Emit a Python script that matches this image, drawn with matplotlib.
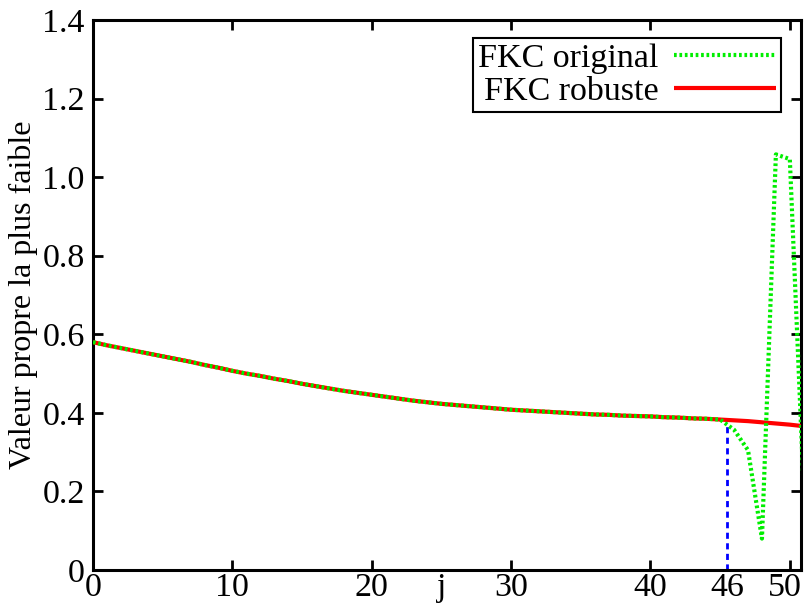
import matplotlib
matplotlib.use("Agg")
import matplotlib.pyplot as plt
import matplotlib.transforms as mtransforms
import numpy as np

# Iteration index
j_values = list(range(52))

# Smallest eigenvalue per iteration, robust FKC
robust = [0.580, 0.572, 0.565, 0.558, 0.551, 0.544, 0.537, 0.530, 0.522, 0.515,
          0.507, 0.500, 0.494, 0.487, 0.481, 0.474, 0.468, 0.462, 0.456, 0.451,
          0.446, 0.441, 0.436, 0.431, 0.427, 0.423, 0.420, 0.417, 0.414, 0.411,
          0.408, 0.406, 0.404, 0.402, 0.400, 0.398, 0.396, 0.395, 0.393, 0.392,
          0.391, 0.389, 0.388, 0.386, 0.385, 0.383, 0.381, 0.379, 0.376, 0.373,
          0.370, 0.366]

# Smallest eigenvalue per iteration, original FKC
original = robust[:46] + [0.357, 0.305, 0.080, 1.058, 1.046, 0.200]

# Iteration where the original filter breaks down
breakdown_j = 45.5
breakdown_label = "46"

major_ticks = [0, 10, 20, 30, 40, 50]
major_labels = ["0", "10", "20", "30", "40", "50"]
extra_ticks = [25, breakdown_j]
extra_labels = ["j", breakdown_label]
y_ticks = [0, 0.2, 0.4, 0.6, 0.8, 1.0, 1.2, 1.4]
y_labels = ["0", "0.2", "0.4", "0.6", "0.8", "1.0", "1.2", "1.4"]

plt.rcParams["font.family"] = ["Liberation Serif", "DejaVu Serif"]

fig = plt.figure(figsize=(8.05, 6.03), dpi=100)
ax = fig.add_axes([0.1155, 0.0547, 0.8795, 0.9121])

ax.plot(j_values, robust, color="#ff0000", lw=3.0, label="FKC robuste",
        solid_capstyle="butt", zorder=3)
ax.plot(j_values, original, color="#00ee00", lw=3.0, label="FKC original",
        linestyle=(0, (0.65, 0.65)), dash_capstyle="butt", zorder=4)
ax.vlines(breakdown_j, 0, np.interp(breakdown_j, j_values, original),
          colors="#0000ff", lw=2.0, linestyles=(0, (2.2, 1.6)), zorder=2)

ax.set_xlim(0, 50.8)
ax.set_ylim(0, 1.4)

ax.set_xticks(major_ticks)
ax.set_xticklabels(major_labels)
ax.set_xticks(extra_ticks, minor=True)
ax.set_xticklabels(extra_labels, minor=True)
ax.set_yticks(y_ticks)
ax.set_yticklabels(y_labels)

fs = 24.5
ax.tick_params(axis="both", which="major", direction="in", length=7, width=2,
               labelsize=fs, top=True, right=True)
ax.tick_params(axis="x", which="major", pad=2)
ax.tick_params(axis="y", which="major", pad=6)
ax.tick_params(axis="x", which="minor", length=0, labelsize=fs, pad=2)

# nudge the last x label so it stays inside the figure
last = ax.get_xticklabels()[-1]
last.set_transform(last.get_transform() +
                   mtransforms.ScaledTranslation(-5 / 100, 0, fig.dpi_scale_trans))

for s in ax.spines.values():
    s.set_linewidth(2.2)

ax.set_ylabel("Valeur propre la plus faible", fontsize=23)
ax.yaxis.set_label_coords(-0.078, 0.5)

h, l = ax.get_legend_handles_labels()
leg = ax.legend([h[1], h[0]], [l[1], l[0]], loc="upper right",
                bbox_to_anchor=(0.972, 0.967), fontsize=fs, markerfirst=False,
                fancybox=False, framealpha=1, edgecolor="black",
                handlelength=3.0, handletextpad=0.45, borderpad=0.15,
                labelspacing=0.05, borderaxespad=0)
leg.get_frame().set_linewidth(1.5)

fig.savefig("out.png", dpi=100)
